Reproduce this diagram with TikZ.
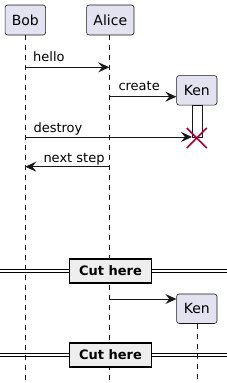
\documentclass[tikz,border=0pt]{standalone}
\usepackage{fontspec}
\setmainfont{DejaVu Sans}
\usetikzlibrary{arrows.meta,positioning,calc}
\definecolor{Ink}{HTML}{181818}
\definecolor{Lavender}{HTML}{E2E2F0}
\definecolor{Crimson}{HTML}{A80036}
\definecolor{Divider}{HTML}{EEEEEE}

\begin{document}
\begin{tikzpicture}[x=1pt,y=-1pt,
  actor/.style={draw=Ink,fill=Lavender,rounded corners=2.5pt,minimum height=30pt,inner sep=0pt,font=\fontsize{14}{16}\selectfont,line width=0.6pt},
  life/.style={draw=Ink,dash pattern=on 5pt off 5pt,line width=0.5pt},
  msg/.style={draw=Ink,line width=0.9pt,-{Stealth[length=11pt,width=10pt,inset=4pt]}},
  lbl/.style={font=\fontsize{13}{15}\selectfont,inner sep=0pt,anchor=base west},
  cutbox/.style={draw=black,fill=Divider,line width=1.4pt,font=\bfseries\fontsize{13}{15}\selectfont,minimum width=82pt,minimum height=24pt,inner sep=0pt}
]
\useasboundingbox (0,0) rectangle (227,383);
% participants
\node[actor,minimum width=40.5pt] (bob) at (25.3,20) {Bob};
\node[actor,minimum width=47.3pt] (alice) at (110.3,20) {Alice};
\node[actor,minimum width=40.3pt,minimum height=29.5pt] (ken) at (196.8,90.3) {Ken};
\node[actor,minimum width=40.3pt,minimum height=29.5pt] (ken2) at (196.8,308.7) {Ken};
\coordinate (bobend) at (25.3,383);
\coordinate (aliceend) at (109.3,383);
\coordinate (kenend) at (196.8,383);
\draw[life] (bob.south) -- (bobend);
\draw[life] ([xshift=-1pt]alice.south) -- (aliceend);
\draw[life] (ken2.south) -- (kenend);
% activation of Ken
\node[draw=Ink,fill=white,line width=0.6pt,minimum width=10pt,minimum height=32pt,inner sep=0pt,anchor=north] (kenbar) at (ken.south) {};
% messages
\coordinate (b1) at (25.3,67.3);
\coordinate (a1) at (109.3,67.3);
\coordinate (a2) at (109.3,96.7);
\coordinate (b3) at (25.3,137);
\coordinate (k3) at (192,137);
\coordinate (a4) at (109.3,166.7);
\coordinate (b4) at (25.3,166.7);
\coordinate (a5) at (109.3,299);
\draw[msg] (b1) -- (a1);
\node[lbl] (hello) at (33,61.5) {hello};
\draw[msg] (a2) -- (ken.west |- a2);
\node[lbl] (create) at (118.3,90.7) {create};
\draw[msg] (b3) -- (k3);
\node[lbl] (destroy) at (33.3,132.3) {destroy};
\draw[msg] (a4) -- (b4);
\node[lbl] (next) at (43.3,162.3) {next step};
\draw[msg] (a5) -- (ken2.west |- a5);
% destruction
\draw[Crimson,line width=1.6pt] ($(kenbar.south)+(-10,-10)$) -- ($(kenbar.south)+(10,10)$);
\draw[Crimson,line width=1.6pt] ($(kenbar.south)+(-10,10)$) -- ($(kenbar.south)+(10,-10)$);
% dividers
\foreach \y/\n in {271/cuta,355/cutb}{
  \draw[black,line width=0.9pt] (0,\y-1.6) -- (227,\y-1.6);
  \draw[black,line width=0.9pt] (0,\y+1.6) -- (227,\y+1.6);
  \node[cutbox] (\n) at (110.5,\y) {Cut here};
}
\end{tikzpicture}
\end{document}
